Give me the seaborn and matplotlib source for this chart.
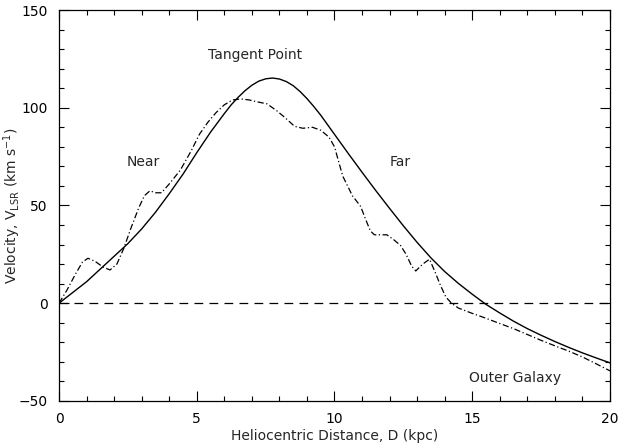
import numpy as np
import pandas as pd
import matplotlib
matplotlib.use("Agg")
import matplotlib.pyplot as plt
import seaborn as sns

# rotation curve (solid)
dist_model = [0, 0.5, 1, 1.5, 2, 2.5, 3, 3.5, 4, 4.5, 5, 5.5, 6, 6.25, 6.5,
              6.75, 7, 7.25, 7.5, 7.75, 8, 8.25, 8.5, 8.75, 9, 9.25, 9.5,
              10, 10.5, 11, 11.5, 12, 12.5, 13, 13.5, 14, 14.5, 15, 15.5,
              16, 16.5, 17, 17.5, 18, 18.5, 19, 19.5, 20]
vel_model = [0, 5.5, 11, 17.5, 24, 30.5, 38, 46.5, 56, 66, 77, 87.5, 97,
             101.5, 105.3, 108.7, 111.5, 113.6, 114.8, 115.2, 114.7, 113.4,
             111.3, 108.3, 104.7, 100.6, 96.2, 86.4, 76.6, 67, 57.6, 48.5,
             39.6, 31.1, 23.2, 16.2, 10.1, 4.6, -0.6, -5, -9.2, -13, -16.4,
             -19.6, -22.6, -25.4, -28, -30.5]

# observed velocities (dash-dot)
dist_obs = [0, 0.3, 0.6, 0.85, 1.05, 1.3, 1.6, 1.85, 2.1, 2.35, 2.6, 2.9,
            3.1, 3.3, 3.5, 3.72, 4.0, 4.4, 4.8, 5.1, 5.4, 5.7, 6.0, 6.3,
            6.6, 6.9, 7.2, 7.55, 7.9, 8.2, 8.55, 8.85, 9.2, 9.5, 9.8, 10.0,
            10.3, 10.65, 10.95, 11.1, 11.3, 11.45, 11.9, 12.15, 12.4, 12.6,
            12.8, 12.95, 13.2, 13.45, 13.65, 13.85, 14.05, 14.25, 14.5, 15,
            15.5, 16, 16.5, 17, 17.5, 18, 18.5, 19, 19.5, 20]
vel_obs = [0, 7, 15, 21, 23, 21.5, 18.5, 17, 20, 28, 38, 49, 55, 57.5,
           56.5, 56.5, 61, 68, 78, 86.5, 92.5, 97.5, 101.5, 104, 104.5, 104,
           103, 102, 98.5, 95, 90.5, 89.5, 90, 88.5, 85, 80, 65, 55, 49.5,
           44, 37, 35, 35, 32.5, 29.5, 25, 19, 16.5, 20, 22.5, 16, 9, 3, 0,
           -2.5, -5.2, -7.7, -10.4, -13, -16, -19, -21.8, -24.5, -27.5, -31,
           -34.6]

labels = ["Tangent Point", "Near", "Far", "Outer Galaxy"]
label_x = [7.1, 3.05, 12.4, 16.55]
label_y = [127, 72, 72, -38.5]

sns.set_theme(style="ticks")
plt.rcParams['font.family'] = ['DejaVu Sans']

fig = plt.figure(figsize=(6.18, 4.45), dpi=100)
ax = fig.add_axes([0.0955, 0.099, 0.8915, 0.8785])

model = pd.DataFrame({"D": dist_model, "V": vel_model})
obs = pd.DataFrame({"D": dist_obs, "V": vel_obs})

sns.lineplot(data=model, x="D", y="V", ax=ax, color="black", lw=1.0,
             sort=False)
sns.lineplot(data=obs, x="D", y="V", ax=ax, color="black", lw=0.9,
             sort=False, linestyle=(0, (5, 2, 1, 2)))
ax.axhline(0, color="black", lw=0.9, linestyle=(0, (7, 5)))

for t, x, y in zip(labels, label_x, label_y):
    ax.text(x, y, t, ha="center", va="center", fontsize=10)

ax.set_xlim(0, 20)
ax.set_ylim(-50, 150)
ax.set_xticks([0, 5, 10, 15, 20])
ax.set_yticks([-50, 0, 50, 100, 150])
ax.set_xticks(np.arange(0, 21, 1), minor=True)
ax.set_yticks(np.arange(-50, 151, 10), minor=True)
ax.tick_params(which="both", direction="in", top=True, right=True,
               labelsize=10, color="black", labelcolor="black", width=0.8)
ax.tick_params(which="major", length=7, pad=8)
ax.tick_params(which="minor", length=3.5)
for s in ax.spines.values():
    s.set_linewidth(0.9)
    s.set_color("black")

ax.set_xlabel("Heliocentric Distance, D (kpc)", fontsize=10, labelpad=2)
ax.set_ylabel(r"Velocity, V$_{\mathregular{LSR}}$ (km s$^{\mathregular{-1}}$)",
              fontsize=10)
ax.yaxis.set_label_coords(-0.066, 0.5)

fig.savefig("out.png", dpi=100)
